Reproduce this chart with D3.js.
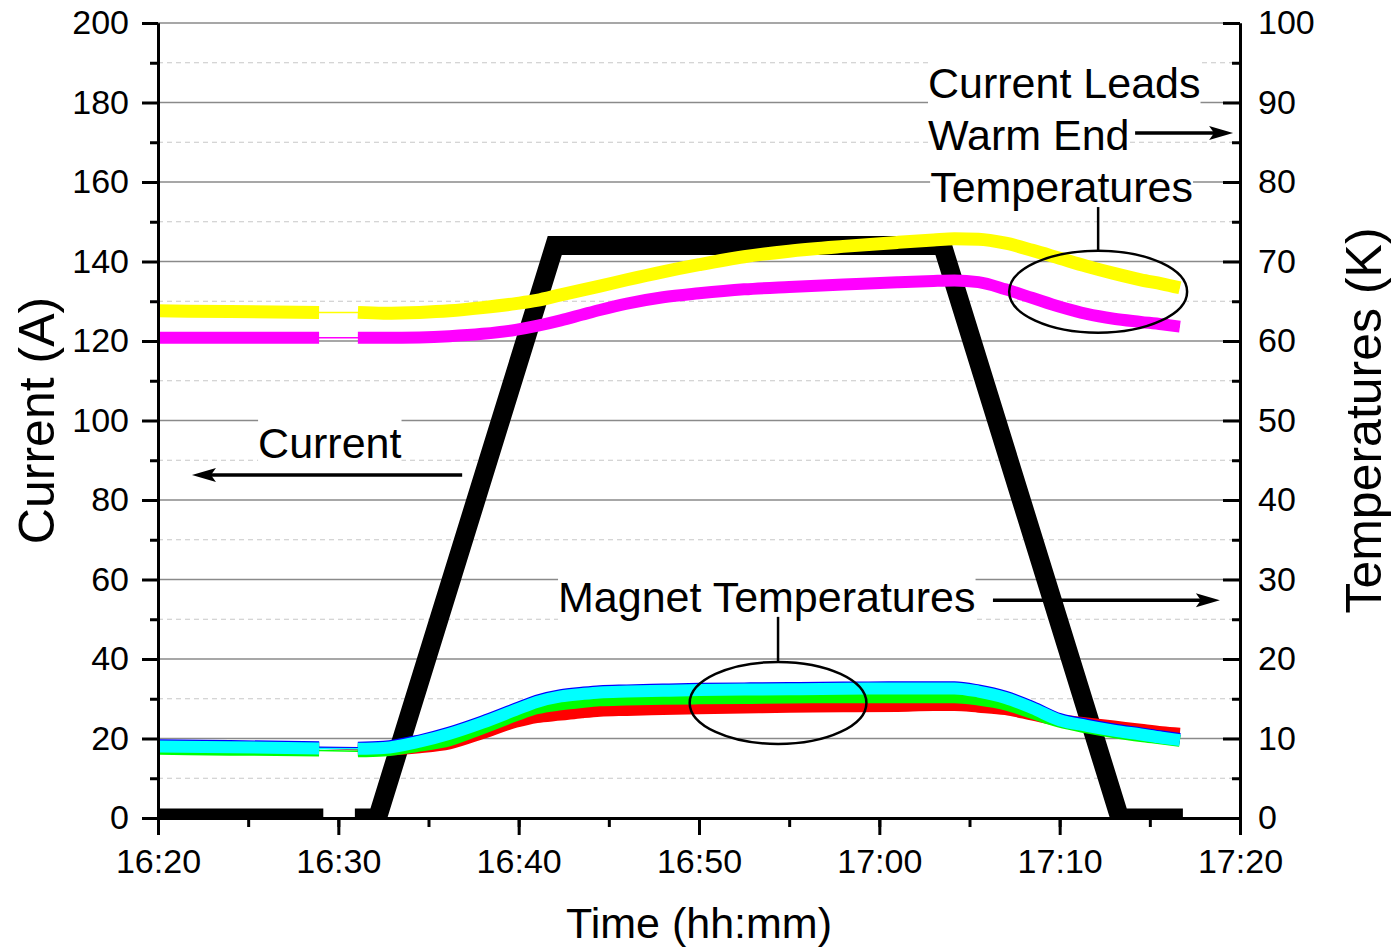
<!DOCTYPE html>
<html>
<head>
<meta charset="utf-8">
<script src="https://cdn.jsdelivr.net/npm/d3@7"></script>
<style>
  body { margin: 0; background: #fff; }
  svg text { font-family: "Liberation Sans", Arial, sans-serif; fill: #000; }
</style>
</head>
<body>
<div id="chart"></div>
<script>
// ---- data ----
// magnet current (A), left axis; null = logging gap
const currentTime = ["16:20:00", "16:29:10", "16:30:00", "16:30:55", "16:32:10", "16:42:00", "17:03:30", "17:13:20", "17:16:50"];
const currentVal = [0, 0, null, 0, 0, 144, 144, 0, 0];

// temperatures (K), right axis, common time base
const tempTime = ["16:20:00", "16:24:00", "16:28:56", "16:30:00", "16:31:05", "16:32:30", "16:34:30", "16:36:10",
  "16:38:00", "16:39:50", "16:41:00", "16:42:20", "16:43:30", "16:44:30", "16:46:00", "16:48:00", "16:50:00",
  "16:52:30", "16:55:00", "16:58:00", "17:01:00", "17:03:00", "17:04:10", "17:05:30", "17:07:00", "17:08:30",
  "17:10:00", "17:11:30", "17:13:00", "17:14:30", "17:15:40", "17:16:40"];
const leadYellow = [63.8, 63.7, 63.6, null, 63.6, 63.5, 63.6, 63.8, 64.2, 64.7, 65.1, 65.8, 66.4, 66.9, 67.7, 68.7, 69.6,
  70.6, 71.3, 71.9, 72.4, 72.7, 72.85, 72.8, 72.3, 71.4, 70.4, 69.4, 68.5, 67.7, 67.2, 66.7];
const leadMagenta = [60.4, 60.4, 60.4, null, 60.4, 60.4, 60.45, 60.6, 60.9, 61.4, 61.9, 62.6, 63.3, 63.9, 64.7, 65.5, 66.0,
  66.5, 66.8, 67.1, 67.4, 67.55, 67.6, 67.4, 66.5, 65.4, 64.3, 63.4, 62.8, 62.4, 62.1, 61.8];
const magnetRed = [9.0, 8.9, 8.8, null, 8.6, 8.6, 8.9, 9.4, 10.7, 12.1, 12.7, 13.0, 13.3, 13.5, 13.6, 13.7, 13.8,
  13.9, 14.0, 14.05, 14.1, 14.2, 14.2, 14.0, 13.7, 13.0, 12.3, 11.9, 11.5, 11.1, 10.8, 10.6];
const magnetGreen = [8.7, 8.6, 8.5, null, 8.4, 8.5, 9.1, 9.8, 11.3, 12.9, 13.8, 14.3, 14.6, 14.8, 14.9, 15.0, 15.05,
  15.1, 15.15, 15.2, 15.2, 15.2, 15.2, 14.9, 14.3, 13.2, 12.1, 11.4, 10.8, 10.3, 10.0, 9.7];
const magnetBlue = [9.15, 9.05, 8.9, null, 8.85, 8.95, 9.75, 10.75, 12.15, 13.75, 14.75, 15.45, 15.75, 15.95, 16.05, 16.15, 16.25,
  16.3, 16.35, 16.4, 16.45, 16.45, 16.45, 16.05, 15.25, 13.95, 12.45, 11.75, 11.15, 10.65, 10.25, 9.95];
const magnetCyan = [9.0, 8.9, 8.75, null, 8.7, 8.8, 9.6, 10.6, 12.0, 13.6, 14.6, 15.3, 15.6, 15.8, 15.9, 16.0, 16.1,
  16.15, 16.2, 16.25, 16.3, 16.3, 16.3, 15.9, 15.1, 13.8, 12.3, 11.6, 11.0, 10.5, 10.1, 9.8];

const leftTicks = d3.range(0, 201, 20);
const rightTicks = d3.range(0, 101, 10);

// ---- setup ----
const W = 1391, H = 948;
const margin = { top: 23, right: 151, bottom: 130, left: 158 };
const parseT = d3.timeParse("%H:%M:%S");

const x = d3.scaleTime()
  .domain([parseT("16:20:00"), parseT("17:20:00")])
  .range([margin.left, W - margin.right]);
const yI = d3.scaleLinear().domain([0, 200]).range([H - margin.bottom, margin.top]);
const yT = d3.scaleLinear().domain([0, 100]).range([H - margin.bottom, margin.top]);

const svg = d3.select("#chart").append("svg").attr("width", W).attr("height", H);

svg.append("defs").append("clipPath").attr("id", "plotclip")
  .append("rect")
  .attr("x", margin.left).attr("y", margin.top)
  .attr("width", W - margin.left - margin.right)
  .attr("height", H - margin.top - margin.bottom);

// horizontal grid: solid on major, dashed on minor
svg.append("g").selectAll("line")
  .data(d3.range(10, 201, 10))
  .enter().append("line")
  .attr("x1", x.range()[0]).attr("x2", x.range()[1])
  .attr("y1", d => yI(d)).attr("y2", d => yI(d))
  .attr("stroke", d => (d % 20 === 0 ? "#8a8a8a" : "#c8c8c8"))
  .attr("stroke-width", d => (d % 20 === 0 ? 1.5 : 1.2))
  .attr("stroke-dasharray", d => (d % 20 === 0 ? null : "5,4"));

const plot = svg.append("g").attr("clip-path", "url(#plotclip)");

// current trace
const currentData = currentTime.map((t, i) => ({ t: parseT(t), v: currentVal[i] }));
const lineI = d3.line().defined(d => d.v != null).x(d => x(d.t)).y(d => yI(d.v));
plot.append("path")
  .datum(currentData)
  .attr("d", lineI)
  .attr("fill", "none")
  .attr("stroke", "#000")
  .attr("stroke-width", 19)
  .attr("stroke-linejoin", "miter")
  .attr("stroke-miterlimit", 10);

// temperature traces
const tempSeries = [
  { vals: leadMagenta, color: "#ff00ff", w: 12 },
  { vals: leadYellow, color: "#ffff00", w: 13 },
  { vals: magnetRed, color: "#ff0000", w: 12 },
  { vals: magnetGreen, color: "#00ff00", w: 12 },
  { vals: magnetBlue, color: "#0000ff", w: 12 },
  { vals: magnetCyan, color: "#00ffff", w: 12 }
];
const lineT = d3.line()
  .defined(d => d.v != null)
  .x(d => x(d.t)).y(d => yT(d.v))
  .curve(d3.curveMonotoneX);
const lineThin = d3.line().x(d => x(d.t)).y(d => yT(d.v));

tempSeries.forEach(s => {
  const pts = tempTime.map((t, i) => ({ t: parseT(t), v: s.vals[i] }));
  // thin connection across the gap
  plot.append("path")
    .datum(pts.filter(d => d.v != null))
    .attr("d", lineThin)
    .attr("fill", "none")
    .attr("stroke", s.color)
    .attr("stroke-width", 1.5);
  plot.append("path")
    .datum(pts)
    .attr("d", lineT)
    .attr("fill", "none")
    .attr("stroke", s.color)
    .attr("stroke-width", s.w)
    .attr("stroke-linejoin", "round");
});

// ---- axes ----
function styleAxis(g) {
  g.select(".domain").attr("stroke", "#000").attr("stroke-width", 3);
  g.selectAll(".tick line").attr("stroke", "#000").attr("stroke-width", 3);
  g.selectAll(".tick text").attr("font-size", 34).attr("font-family", "Liberation Sans, Arial, sans-serif");
}

// left
svg.append("g")
  .attr("transform", `translate(${margin.left},0)`)
  .call(d3.axisLeft(yI).tickValues(d3.range(10, 200, 20)).tickSize(8).tickSizeOuter(0).tickFormat(""))
  .call(styleAxis);
svg.append("g")
  .attr("transform", `translate(${margin.left},0)`)
  .call(d3.axisLeft(yI).tickValues(leftTicks).tickSize(16).tickSizeOuter(0).tickPadding(13))
  .call(styleAxis);

// right (ticks inward)
svg.append("g")
  .attr("transform", `translate(${W - margin.right},0)`)
  .call(d3.axisRight(yT).tickValues(d3.range(5, 100, 10)).tickSize(-8).tickSizeOuter(0).tickFormat(""))
  .call(styleAxis);
svg.append("g")
  .attr("transform", `translate(${W - margin.right},0)`)
  .call(d3.axisRight(yT).tickValues(rightTicks).tickSize(-17).tickSizeOuter(0).tickPadding(18))
  .call(styleAxis);

// bottom
svg.append("g")
  .attr("transform", `translate(0,${H - margin.bottom})`)
  .call(d3.axisBottom(x).ticks(d3.timeMinute.every(5)).tickSize(9).tickSizeOuter(0).tickFormat(""))
  .call(styleAxis);
svg.append("g")
  .attr("transform", `translate(0,${H - margin.bottom})`)
  .call(d3.axisBottom(x).ticks(d3.timeMinute.every(10)).tickSize(17).tickSizeOuter(0).tickPadding(14)
    .tickFormat(d3.timeFormat("%H:%M")))
  .call(styleAxis);

// axis titles
svg.append("text")
  .attr("transform", `translate(54,${(yI(0) + yI(200)) / 2}) rotate(-90)`)
  .attr("text-anchor", "middle")
  .attr("font-size", 50)
  .text("Current (A)");
svg.append("text")
  .attr("transform", `translate(1381,${(yI(0) + yI(200)) / 2}) rotate(-90)`)
  .attr("text-anchor", "middle")
  .attr("font-size", 50)
  .text("Temperatures (K)");
svg.append("text")
  .attr("x", (x.range()[0] + x.range()[1]) / 2)
  .attr("y", 938)
  .attr("text-anchor", "middle")
  .attr("font-size", 43)
  .text("Time (hh:mm)");

// ---- annotations (anchored in data units) ----
const notes = svg.append("g");

function label(t, amps, str) {
  const txt = notes.append("text")
    .attr("x", x(parseT(t))).attr("y", yI(amps))
    .attr("font-size", 43)
    .text(str);
  const b = txt.node().getBBox();
  notes.insert("rect", () => txt.node())
    .attr("x", b.x).attr("y", b.y).attr("width", b.width).attr("height", b.height)
    .attr("fill", "#fff");
}

function arrow(t0, t1, amps) {
  const x0 = x(parseT(t0)), x1 = x(parseT(t1)), yy = yI(amps);
  const dir = Math.sign(x1 - x0);
  notes.append("line")
    .attr("x1", x0).attr("x2", x1 - dir * 18)
    .attr("y1", yy).attr("y2", yy)
    .attr("stroke", "#000").attr("stroke-width", 3.5);
  notes.append("path")
    .attr("d", `M${x1},${yy} L${x1 - dir * 24},${yy - 7} L${x1 - dir * 19},${yy} L${x1 - dir * 24},${yy + 7} Z`)
    .attr("fill", "#000");
}

function ring(t, kelvin, rxMin, ryK, leaderAmps) {
  const cx = x(parseT(t)), cy = yT(kelvin);
  const rx = x(d3.timeSecond.offset(parseT(t), rxMin * 60)) - cx;
  const ry = yT(0) - yT(ryK);
  notes.append("ellipse")
    .attr("cx", cx).attr("cy", cy).attr("rx", rx).attr("ry", ry)
    .attr("fill", "none").attr("stroke", "#000").attr("stroke-width", 2.5);
  notes.append("line")
    .attr("x1", cx).attr("x2", cx)
    .attr("y1", cy - ry).attr("y2", yI(leaderAmps))
    .attr("stroke", "#000").attr("stroke-width", 2.5);
}

label("16:25:33", 90.6, "Current");
arrow("16:36:52", "16:21:53", 86.3);

label("17:02:42", 181.1, "Current Leads");
label("17:02:42", 168.1, "Warm End");
label("17:02:49", 155.0, "Temperatures");
arrow("17:14:11", "17:19:37", 172.3);
ring("17:12:08", 66.2, 4.94, 5.16, 153.7);

label("16:42:11", 51.8, "Magnet Temperatures");
arrow("17:06:18", "17:18:53", 54.8);
ring("16:54:23", 14.47, 4.9, 5.16, 50.6);
</script>
</body>
</html>
